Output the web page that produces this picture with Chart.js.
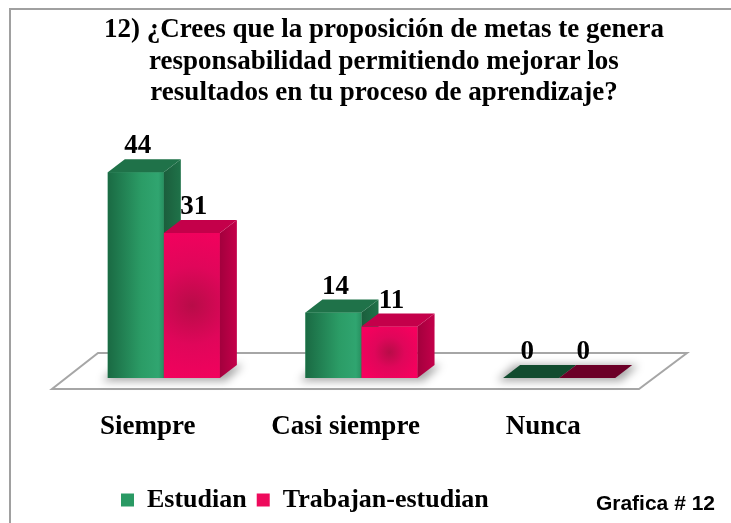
<!DOCTYPE html>
<html>
<head>
<meta charset="utf-8">
<script src="https://cdn.jsdelivr.net/npm/chart.js@4.4.1/dist/chart.umd.min.js"></script>
<style>
  html, body { margin: 0; padding: 0; background: #fff; }
</style>
</head>
<body>
<canvas id="grafica" width="731" height="523"></canvas>
<script>
// datos de la grafica
const categorias = ["Siempre", "Casi siempre", "Nunca"]
const estudian = [44, 14, 0]
const trabajanEstudian = [31, 11, 0]
const series = ["Estudian", "Trabajan-estudian"]
const titulo = [
  "12) ¿Crees que la proposición de metas te genera",
  "responsabilidad permitiendo mejorar los",
  "resultados en tu proceso de aprendizaje?",
]
const nota = "Grafica # 12"

const SERIF = "'Liberation Serif', 'Times New Roman', serif"
const DX = 17   // profundidad 3D
const DY = 13

// colores por serie: frente, lado, techo
const paleta = [
  { flat: "#2a9a64", side: "#1b5e3c", top: "#1f7249", zero: "#114b2e" },
  { flat: "#ee0a5c", side: "#a3003d", top: "#c4004a", zero: "#6c0028" },
]

function frente(c, i, l, r, y, base) {
  let g
  if (i === 0) {
    g = c.createLinearGradient(l, 0, r, 0)
    g.addColorStop(0, "#1a6a43")
    g.addColorStop(0.6, "#2b9c66")
    g.addColorStop(0.9, "#30a570")
    g.addColorStop(1, "#279060")
  } else {
    const cx = (l + r) / 2, cy = (y + base) / 2
    g = c.createRadialGradient(cx, cy, 0, cx, cy, Math.max(r - l, base - y) * 0.6)
    g.addColorStop(0, "#b80c48")
    g.addColorStop(0.45, "#e0065a")
    g.addColorStop(1, "#f7005e")
  }
  c.fillStyle = g
  c.fillRect(l, y, r - l, base - y)
}

const tresD = {
  id: "tresD",
  beforeDraw(chart) {
    const c = chart.ctx
    c.save()
    c.strokeStyle = "#a0a0a0"
    c.lineWidth = 2
    c.strokeRect(10, 9, 760, 560)
    c.restore()
  },
  afterLayout(chart) {
    // mover la leyenda hacia la derecha como en la original
    chart.legend.left += 64
    chart.legend.right += 64
  },
  beforeDatasetsDraw(chart) {
    const c = chart.ctx, a = chart.chartArea
    const base = chart.scales.y.getPixelForValue(0)
    c.save()
    c.beginPath()
    c.moveTo(a.left - 13, base + 11)
    c.lineTo(a.right - 19, base + 11)
    c.lineTo(a.right + 29, base - 25)
    c.lineTo(a.left + 33, base - 25)
    c.closePath()
    c.fillStyle = "#fff"
    c.fill()
    c.strokeStyle = "#a6a6a6"
    c.lineWidth = 2
    c.stroke()
    // sombras
    c.filter = "blur(4px)"
    c.fillStyle = "rgba(0,0,0,0.35)"
    const m0 = chart.getDatasetMeta(0).data, m1 = chart.getDatasetMeta(1).data
    m0.forEach((bar, i) => {
      const p0 = bar.getProps(["x", "width"], true)
      const p1 = m1[i].getProps(["x", "width"], true)
      const l = p0.x - p0.width / 2 - 6
      const r = p1.x + p1.width / 2 + DX + 6
      c.beginPath()
      c.moveTo(l, base + 3)
      c.lineTo(r - DX, base + 3)
      c.lineTo(r, base - DY)
      c.lineTo(l + DX, base - DY)
      c.closePath()
      c.fill()
    })
    c.restore()
  },
  afterDatasetsDraw(chart) {
    const c = chart.ctx
    c.save()
    for (let k = 0; k < chart.data.datasets.length; k++) {
      const meta = chart.getDatasetMeta(k)
      const col = paleta[k]
      meta.data.forEach((bar) => {
        const { x, y, base, width } = bar.getProps(["x", "y", "base", "width"], true)
        const l = x - width / 2, r = x + width / 2
        if (base - y > 0.5) {
          frente(c, k, l, r, y, base)
          // lado
          const gs = c.createLinearGradient(r, 0, r + DX, 0)
          gs.addColorStop(0, col.side)
          gs.addColorStop(1, col.top)
          c.fillStyle = gs
          c.beginPath()
          c.moveTo(r, y)
          c.lineTo(r + DX, y - DY)
          c.lineTo(r + DX, base - DY)
          c.lineTo(r, base)
          c.closePath()
          c.fill()
        }
        // techo
        c.fillStyle = base - y > 0.5 ? col.top : col.zero
        c.beginPath()
        c.moveTo(l, y)
        c.lineTo(l + DX, y - DY)
        c.lineTo(r + DX, y - DY)
        c.lineTo(r, y)
        c.closePath()
        c.fill()
      })
    }
    // etiquetas de valores
    c.fillStyle = "#000"
    c.font = "bold 27px " + SERIF
    c.textAlign = "center"
    c.textBaseline = "alphabetic"
    chart.data.datasets.forEach((ds, k) => {
      chart.getDatasetMeta(k).data.forEach((bar, i) => {
        const { x, y } = bar.getProps(["x", "y"], true)
        c.fillText(String(ds.data[i]), x + (ds.data[i] === 0 ? -4 : 2), y - 19)
      })
    })
    c.restore()
  },
  afterDraw(chart) {
    const c = chart.ctx
    c.save()
    c.fillStyle = "#000"
    c.font = "bold 21px 'Liberation Sans', Arial, sans-serif"
    c.textAlign = "right"
    c.textBaseline = "middle"
    c.fillText(nota, 715, 504)
    c.restore()
  },
}

const data = {
  labels: categorias,
  datasets: [
    { label: series[0], data: estudian, backgroundColor: paleta[0].flat, borderWidth: 0 },
    { label: series[1], data: trabajanEstudian, backgroundColor: paleta[1].flat, borderWidth: 0 },
  ],
}

const config = {
  type: "bar",
  data: data,
  options: {
    responsive: false,
    animation: false,
    categoryPercentage: 0.567,
    barPercentage: 1,
    layout: { padding: { left: 47, right: 10, top: 0, bottom: 0 } },
    scales: {
      x: {
        grid: { display: false },
        border: { display: false },
        ticks: {
          color: "#000",
          font: { family: SERIF, size: 27, weight: "bold" },
          padding: 25,
          labelOffset: -16,
        },
        afterFit(s) { s.height = 99 },
      },
      y: {
        min: 0,
        max: 50,
        grid: { display: false },
        border: { display: false },
        ticks: { display: false },
        afterFit(s) { s.width = 18 },
      },
      derecha: {
        position: "right",
        grid: { display: false },
        border: { display: false },
        ticks: { display: false },
        afterFit(s) { s.width = 63 },
      },
    },
    plugins: {
      title: {
        display: true,
        text: titulo,
        color: "#000",
        font: { family: SERIF, size: 27, weight: "bold", lineHeight: 1.15 },
        padding: { top: 15, bottom: 36 },
      },
      legend: {
        position: "bottom",
        align: "start",
        labels: {
          color: "#000",
          font: { family: SERIF, size: 26, weight: "bold" },
          boxWidth: 13,
          boxHeight: 13,
          padding: 10,
        },
      },
      tooltip: { enabled: false },
    },
  },
  plugins: [tresD],
}

const myChart = new Chart(document.getElementById("grafica"), config)
</script>
</body>
</html>
